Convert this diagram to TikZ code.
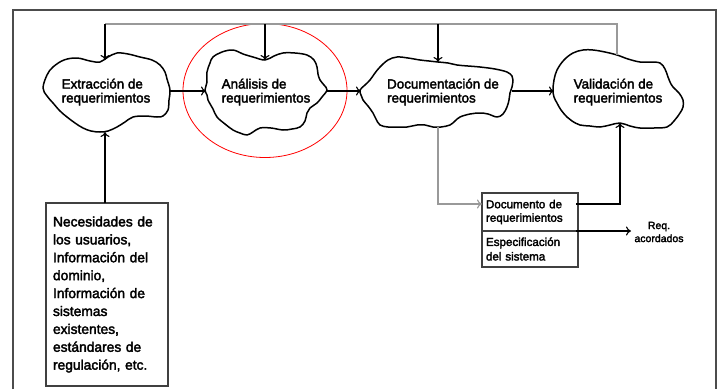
\documentclass[tikz,border=0pt]{standalone}
\usepackage{fontspec}
\setmainfont{Liberation Sans}[FakeBold=2.5]
\usetikzlibrary{arrows.meta}
\tikzset{
  tip/.tip={Computer Modern Rightarrow[length=5pt,width=9pt]},
  cloudline/.style={line width=1.5pt, line join=round},
  ctext/.style={align=left, inner sep=0pt, font=\fontsize{13.4}{14}\selectfont},
  conn/.style={line width=1.1pt, -tip},
  grayline/.style={line width=1.1pt, draw=black!40},
  boxnode/.style={draw=black!75, line width=1.1pt, align=left, anchor=north west, inner sep=0pt, outer sep=0pt},
  frame/.style={draw=black!70, line width=1.2pt}
}
\begin{document}
\begin{tikzpicture}[x=1pt,y=-1pt]
\useasboundingbox (0,0) rectangle (718,389);
\draw[frame] (13,389) -- (13,10) -- (716,10) -- (716,389);

% clouds
\draw[cloudline] plot[smooth cycle, tension=0.6] coordinates {
 (43,88) (47,75) (53,67) (64,60) (77,58) (90,61) (100,62) (108,57) (117,53) (128,54) (140,57) (152,60) (160,65) (165,72) (167,79) (170,90) (169,100) (168,110) (163,116) (157,117) (145,116) (133,117) (125,122) (117,127) (108,131) (100,132) (91,131) (83,128) (75,123) (67,117) (60,111) (53,103) (47,96)};
\draw[cloudline] plot[smooth cycle, tension=0.6] coordinates {
 (207,72) (210,63) (213,57) (222,52) (233,50) (243,54) (253,57) (265,60) (274,56) (283,53) (295,53) (307,55) (314,60) (317,67) (318,74) (320,80) (324,85) (327,90) (322,97) (317,103) (310,108) (307,113) (305,121) (300,127) (292,129) (283,130) (271,128) (260,128) (253,132) (247,135) (240,133) (233,130) (225,124) (217,117) (213,109) (208,100) (207,95) (205,90) (207,82)};
\draw[cloudline] plot[smooth cycle, tension=0.6] coordinates {
 (360,90) (365,85) (370,80) (375,73) (380,67) (388,60) (397,57) (408,58) (420,60) (429,61) (438,62) (448,63) (457,65) (468,66) (480,67) (495,69) (507,72) (512,76) (513,80) (512,87) (510,93) (509,100) (507,107) (503,114) (497,117) (488,114) (480,113) (470,114) (460,117) (455,121) (450,125) (441,127) (433,127) (425,125) (417,125) (407,127) (397,127) (388,127) (380,125) (376,119) (373,113) (368,106) (363,100) (361,95)};
\draw[cloudline] plot[smooth cycle, tension=0.6] coordinates {
 (553,90) (554,80) (557,70) (564,60) (573,53) (583,50) (593,50) (605,52) (617,55) (628,59) (640,62) (650,62) (660,63) (665,69) (668,77) (670,82) (673,87) (679,93) (683,100) (683,107) (680,113) (674,121) (667,127) (654,128) (640,128) (630,126) (620,123) (610,125) (600,127) (590,126) (580,125) (572,121) (567,117) (561,110) (557,103) (554,97)};

% red ellipse
\draw[red, line width=0.8pt] (265,90.5) ellipse [x radius=82, y radius=67];

% cloud texts
\node[ctext] (ext) at (106,92) {Extracción de\\requerimientos};
\node[ctext] (ana) at (266,92) {Análisis de\\requerimientos};
\node[ctext] (doc) at (443,92) {Documentación de\\requerimientos};
\node[ctext] (val) at (618,92) {Validación de\\requerimientos};

% boxes
\node[boxnode, minimum width=120, minimum height=183, text width=108, inner xsep=7pt,
  font=\fontsize{13.8}{17.9}\selectfont] (needs) at (46,203)
 {Necesidades de\\los usuarios,\\Información del\\dominio,\\Información de\\sistemas\\existentes,\\estándares de\\regulación, etc.};
\node[boxnode, minimum width=94, minimum height=38, text width=88, inner xsep=4pt,
  font=\fontsize{11.6}{13.5}\selectfont] (docreq) at (482,193)
 {Documento de\\requerimientos};
\node[boxnode, minimum width=94, minimum height=36, text width=88, inner xsep=4pt,
  font=\fontsize{11.6}{14.5}\selectfont] (spec) at (482,231)
 {Especificación\\del sistema};
\node[align=center, inner sep=0pt, font=\fontsize{10.5}{13}\selectfont] (req) at (659,232) {Req.\\acordados};

% coordinates
\coordinate (tl) at (105,24);
\coordinate (ta) at (265,24);
\coordinate (td) at (438,24);
\coordinate (tr) at (617,24);
\coordinate (ext-n) at (105,60);
\coordinate (ana-n) at (265,60);
\coordinate (doc-n) at (438,62);
\coordinate (val-n) at (617,55);
\coordinate (ext-e) at (170,91);
\coordinate (ana-w) at (206,91);
\coordinate (ana-e) at (327,91);
\coordinate (doc-w) at (361,91);
\coordinate (doc-e) at (512,91);
\coordinate (val-w) at (554,91);
\coordinate (ext-s) at (105,132);
\coordinate (doc-s) at (438,127);
\coordinate (dr-in) at (482,204);
\coordinate (dr-out) at (576,204);
\coordinate (val-s) at (620,123);
\coordinate (sp-out) at (576,231);
\coordinate (req-in) at (631,231);

% connectors
\draw[grayline] (tl) -- (tr) -- (val-n);
\draw[conn] (tl) -- (ext-n);
\draw[conn] (ta) -- (ana-n);
\draw[conn] (td) -- (doc-n);
\draw[conn] (ext-e) -- (ana-w);
\draw[conn] (ana-e) -- (doc-w);
\draw[conn] (doc-e) -- (val-w);
\draw[conn] (needs.north -| ext-s) -- (ext-s);
\draw[grayline, -tip] (doc-s) |- (dr-in);
\draw[conn] (dr-out) -| (val-s);
\draw[conn] (sp-out) -- (req-in);
\end{tikzpicture}
\end{document}
